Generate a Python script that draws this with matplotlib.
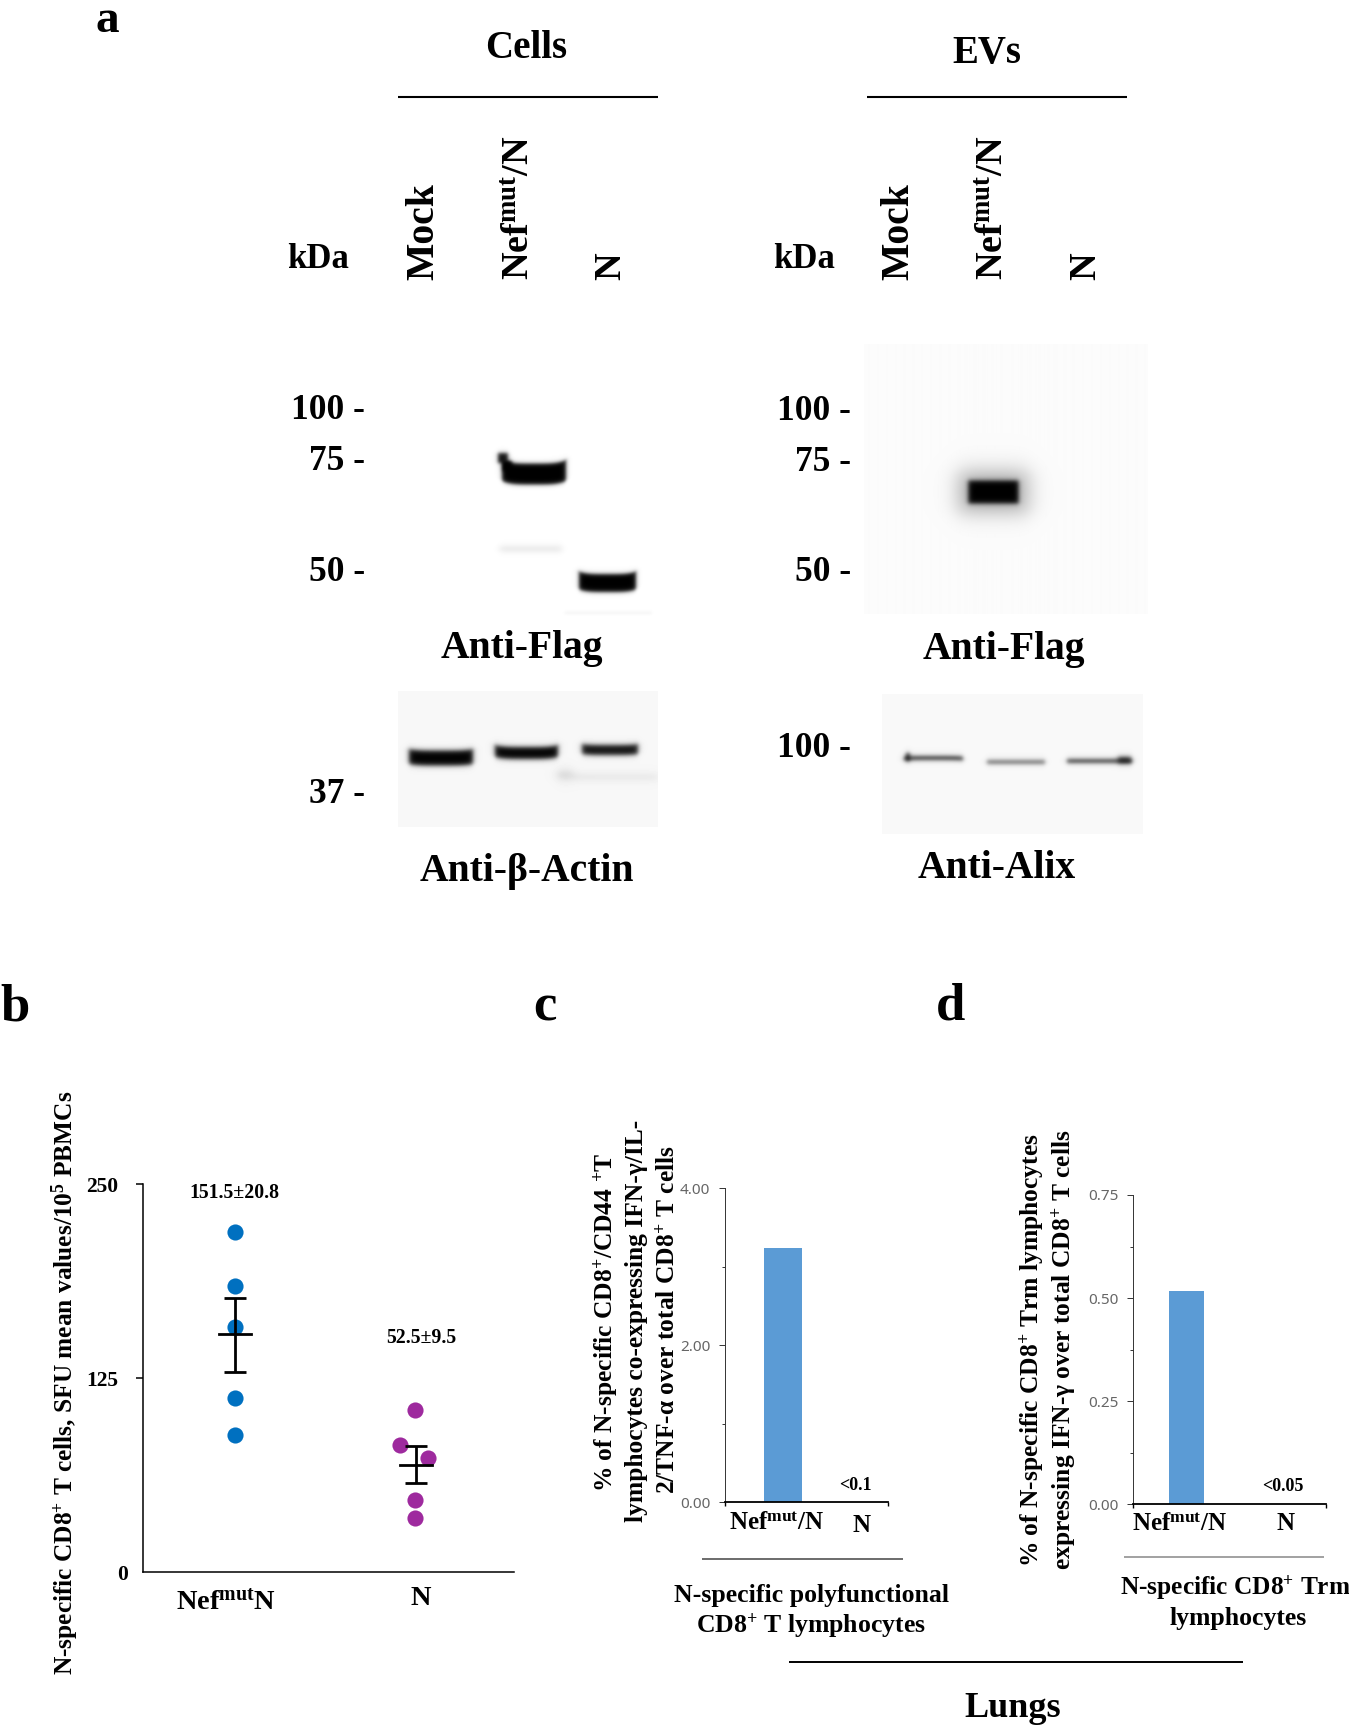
import numpy as np
import matplotlib
matplotlib.use("Agg")
import matplotlib.pyplot as plt
from matplotlib.transforms import ScaledTranslation

plt.rcParams['font.family'] = ['Liberation Serif', 'DejaVu Serif']
plt.rcParams['font.weight'] = 'bold'
plt.rcParams['mathtext.fontset'] = 'custom'
plt.rcParams['mathtext.bf'] = 'Liberation Serif:bold'
plt.rcParams['mathtext.rm'] = 'Liberation Serif:bold'
plt.rcParams['mathtext.default'] = 'bf'

W, H = 1349, 1726

# ---------- panel b data
b_groups = ['Nef$^{mut}$N', 'N']
b_nef = [218.8, 184.6, 157.9, 111.9, 88.0]
b_nef_off = [0, 0, 0, 0, 0]
b_n = [104.7, 81.8, 73.2, 46.5, 34.8]
b_n_off = [0, -0.081, 0.073, 0, 0]
b_mean = [153.4, 69.0]
b_low = [128.9, 57.3]
b_high = [176.8, 81.3]
b_notes = ['151.5±20.8', '52.5±9.5']
b_ticks = [0, 125, 250]

# ---------- panels c, d data
c_values = [3.23]
c_ticks = [0, 2, 4]
c_minor = [1, 3]
d_values = [0.516]
d_ticks = [0, 0.25, 0.5, 0.75]
d_minor = [0.125, 0.375, 0.625]

# ---------- blot bands: x0, x1, y centre, thickness, darkness, softness, end curl
flag_cells = [(502, 566, 474, 21, 1.0, 1.2, 3.5), (498, 508, 458, 10, 0.95, 1.2, 0),
              (503, 512, 466, 10, 1.0, 1.2, 0),
              (500, 562, 549, 3, 0.15, 2.0, 0), (579, 636, 583, 18, 1.0, 1.2, 2.5),
              (565, 652, 613, 1, 0.08, 1.0, 0)]
actin_bands = [(409, 473, 758, 15, 1.0, 1.5, 1.5), (495, 558, 753, 12, 1.0, 1.5, 2.0),
               (582, 638, 750, 10, 0.95, 1.5, 1.0), (558, 572, 775, 5, 0.25, 3.0, 0),
               (572, 658, 777, 3, 0.12, 2.5, 0)]
flag_evs = [(968, 1018, 492, 23, 1.0, 1.4, 0), (958, 1028, 492, 42, 0.3, 6.0, 0)]
alix_bands = [(904, 963, 758, 4, 0.8, 1.3, -0.5), (906, 910, 757, 8, 0.8, 1.3, 0),
              (987, 1045, 762, 4, 0.55, 1.3, 0), (1067, 1132, 761, 4, 0.75, 1.3, 0),
              (1118, 1131, 760, 6, 0.8, 1.5, 0)]

fig = plt.figure(figsize=(W / 100, H / 100), dpi=100, facecolor='white')


def axes_px(x0, x1, top, bottom, **kw):
    return fig.add_axes([x0 / W, 1 - bottom / H, (x1 - x0) / W, (bottom - top) / H], **kw)


def blot(x0, x1, top, bottom, bg, bands):
    ax = axes_px(x0, x1, top, bottom)
    xs, ys = np.meshgrid(np.arange(x0, x1) + .5, np.arange(top, bottom) + .5)
    keep = np.ones_like(xs)
    sig = lambda v: 1 / (1 + np.exp(-v))
    for bx0, bx1, yc, th, dark, soft, curl in bands:
        xm, hw = (bx0 + bx1) / 2, (bx1 - bx0) / 2
        yy = yc - curl * ((xs - xm) / hw) ** 4
        a = sig((xs - bx0) / soft) * sig((bx1 - xs) / soft)
        a = a * sig((ys - (yy - th / 2)) / soft) * sig(((yy + th / 2) - ys) / soft)
        keep = keep * (1 - np.clip(dark * a, 0, 1))
    ax.imshow(bg * keep, cmap='gray', vmin=0, vmax=1, aspect='auto',
              extent=(x0, x1, bottom, top), interpolation='bilinear')
    ax.axis('off')


blot(398, 658, 400, 620, 1.0, flag_cells)
blot(398, 658, 691, 827, 0.97, actin_bands)
blot(864, 1147, 344, 614, 0.985, flag_evs)
blot(882, 1143, 694, 834, 0.975, alix_bands)

# ---------- panel b
axb = axes_px(143, 514, 1184, 1572, facecolor='none')
axb.set_xlim(-0.511, 1.55)
axb.set_ylim(0, 250)
for s in ('top', 'right'):
    axb.spines[s].set_visible(False)
for s in ('left', 'bottom'):
    axb.spines[s].set_linewidth(1.1)
axb.scatter(b_nef_off, b_nef, s=135, color='#0070C0', linewidths=0, zorder=2)
axb.scatter(1 + np.array(b_n_off), b_n, s=135, color='#9E2A9E', linewidths=0, zorder=2)
for i, offs in enumerate((0.0, 0.006)):
    axb.errorbar(i + offs, b_mean[i], yerr=[[b_mean[i] - b_low[i]], [b_high[i] - b_mean[i]]],
                 color='black', lw=2, capsize=7.8, capthick=2, zorder=3)
    axb.plot([i + offs - 0.09, i + offs + 0.09], [b_mean[i]] * 2, color='black', lw=2, zorder=3)
axb.set_xticks([])
axb.set_yticks(b_ticks)
axb.tick_params(axis='y', length=5.4, width=1.1, pad=12.6, labelsize=15.5)
axb.yaxis.get_major_ticks()[0].tick1line.set_visible(False)
lab0 = axb.get_yticklabels()[0]
lab0.set_transform(lab0.get_transform() + ScaledTranslation(9.5 / 100, 0, fig.dpi_scale_trans))


def bar_panel(x0, x1, top, bottom, values, vmax, bx0, bx1, ticks, minor, fmt):
    ax = axes_px(x0, x1, top, bottom, facecolor='none')
    ax.set_xlim(x0, x1)
    ax.set_ylim(0, vmax)
    ax.bar([(bx0 + bx1) / 2], values, width=bx1 - bx0, color='#5B9BD5', edgecolor='none')
    for s in ('top', 'right'):
        ax.spines[s].set_visible(False)
    ax.spines['bottom'].set_linewidth(1.3)
    ax.spines['left'].set_linewidth(0.7)
    ax.spines['left'].set_color('#333333')
    ax.set_yticks(ticks, [fmt % t for t in ticks], family='Noto Sans', fontweight='normal',
                  color='#666666', fontsize=11)
    ax.set_yticks(minor, minor=True)
    ax.tick_params(axis='y', which='major', length=4.5, width=0.7, pad=6, color='#333333')
    ax.tick_params(axis='y', which='minor', length=2.5, width=0.7, color='#333333')
    ax.set_xticks([x0, x1], ['', ''])
    ax.tick_params(axis='x', length=3, width=1)
    return ax


bar_panel(725, 888, 1188, 1502, c_values, 4, 764, 802, c_ticks, c_minor, '%.2f')
bar_panel(1133, 1326, 1195, 1504, d_values, 0.75, 1169, 1204, d_ticks, d_minor, '%.2f')

# ---------- overlay: text and rules, in page pixels
ov = fig.add_axes([0, 0, 1, 1], facecolor='none', zorder=10)
ov.set_xlim(0, W)
ov.set_ylim(H, 0)
ov.axis('off')


def T(x, y, s, size, rot=0, ha='center', va='center'):
    ov.text(x, y, s, fontsize=size, rotation=rot, ha=ha, va=va,
            rotation_mode='anchor' if rot == 0 else 'default', fontweight='bold')


def R(x0, x1, y, color='black', lw=1.5):
    ov.plot([x0, x1], [y, y], color=color, lw=lw, solid_capstyle='butt')


# panel letters
T(107, 32, 'a', 34, va='baseline')
T(15, 1007, 'b', 38)
T(545, 1007, 'c', 38)
T(951, 1006, 'd', 38)

# panel a headers
T(526, 49, 'Cells', 28)
T(987, 54, 'EVs', 28)
R(398, 658, 97)
R(867, 1127, 97)
T(318, 259, 'kDa', 25)
T(804, 260, 'kDa', 25)
for x, s, fs in ((424, 'Mock', 28.5), (520, 'Nef$^{mut}$/N', 27.5), (611, 'N', 27.5),
                 (899, 'Mock', 28.5), (994, 'Nef$^{mut}$/N', 27.5), (1086, 'N', 27.5)):
    T(x, 280, s, fs, rot=90, va='bottom')
for y, s in ((410, '100 -'), (461, '75 -'), (572, '50 -'), (794, '37 -')):
    T(365, y, s, 25.5, ha='right')
for y, s in ((411, '100 -'), (462, '75 -'), (572, '50 -'), (748, '100 -')):
    T(851, y, s, 25.5, ha='right')
T(522, 648, 'Anti-Flag', 28.5)
T(527, 871, 'Anti-β-Actin', 28.5)
T(1004, 649, 'Anti-Flag', 28.5)
T(997, 868, 'Anti-Alix', 28.5)

# panel b labels
T(65.5, 1383, 'N-specific CD8$^{+}$ T cells, SFU mean values/10$^{5}$ PBMCs', 18.3, rot=90)
T(234, 1193, b_notes[0], 14.2)
T(421, 1338, b_notes[1], 14.2)
T(226, 1602, b_groups[0], 20.4)
T(421, 1598, b_groups[1], 20.4)

# panel c labels
T(606, 1322, '% of N-specific CD8$^{+}$/CD44 $^{+}$T', 18.4, rot=90)
T(637, 1321, 'lymphocytes co-expressing IFN-γ/IL-', 18.4, rot=90)
T(668, 1320, '2/TNF-α over total CD8$^{+}$ T cells', 18.4, rot=90)
T(777, 1523, 'Nef$^{mut}$/N', 18)
T(862, 1525, 'N', 18)
T(855, 1485, '<0.1', 13)
R(702, 903, 1559, '#444444', 1.1)
T(811, 1595, 'N-specific polyfunctional', 18.5)
T(811, 1626, 'CD8$^{+}$ T lymphocytes', 18.5)

# panel d labels
T(1032, 1350, '% of N-specific CD8$^{+}$ Trm lymphocytes', 18.4, rot=90)
T(1064, 1350, 'expressing IFN-γ over total CD8$^{+}$ T cells', 18.4, rot=90)
T(1180, 1524, 'Nef$^{mut}$/N', 18)
T(1286, 1523, 'N', 18)
T(1283, 1486, '<0.05', 13)
R(1124, 1324, 1557, '#888888', 1.1)
T(1235, 1588, 'N-specific CD8$^{+}$ Trm', 18.3)
T(1238, 1618, 'lymphocytes', 18.5)

R(789, 1243, 1662, 'black', 1.4)
T(1013, 1708, 'Lungs', 26)

fig.savefig('out.png', dpi=100, facecolor='white')
